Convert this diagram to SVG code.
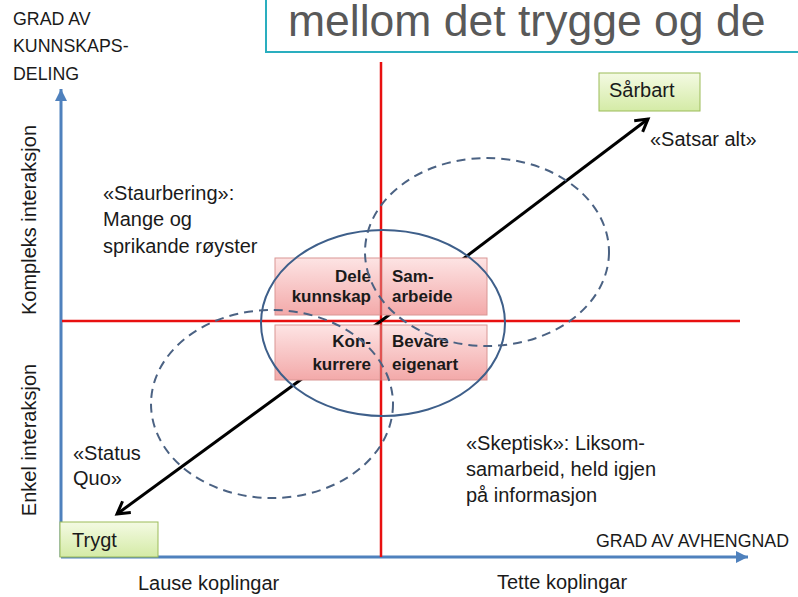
<svg xmlns="http://www.w3.org/2000/svg" width="798" height="597" viewBox="0 0 798 597">
<defs>
<linearGradient id="pink" x1="0" y1="0" x2="0" y2="1"><stop offset="0" stop-color="#fde4e4"/><stop offset="1" stop-color="#f3a9a9"/></linearGradient>
<linearGradient id="green" x1="0" y1="0" x2="0" y2="1"><stop offset="0" stop-color="#f4fae3"/><stop offset="1" stop-color="#d4eba6"/></linearGradient>
<marker id="blueHead" viewBox="0 0 12 12" markerWidth="12" markerHeight="12" refX="12" refY="6" orient="auto" markerUnits="userSpaceOnUse"><path d="M0,0 L12,6 L0,12 Z" fill="#4f81bd"/></marker>
<marker id="openHead" viewBox="0 0 18 18" markerWidth="18" markerHeight="18" refX="15" refY="9" orient="auto" markerUnits="userSpaceOnUse"><path d="M3,2 L15,9 L3,16" fill="none" stroke="#000" stroke-width="3"/></marker>
<style>
.t{font-family:"Liberation Sans",Arial,sans-serif;font-size:20px;fill:#1a1a1a}
.cap{font-size:17.8px}
.b{font-family:"Liberation Sans",Arial,sans-serif;font-size:17px;font-weight:bold;fill:#1a1a1a}
.axis{stroke:#4f81bd;stroke-width:3;fill:none;marker-end:url(#blueHead)}
.red{stroke:#e81010;stroke-width:2.5}
.dash{fill:none;stroke:#4b6283;stroke-width:2;stroke-dasharray:9 6}
.solid{fill:none;stroke:#3e5f8a;stroke-width:2}
.pbox{fill:url(#pink);stroke:#d99694;stroke-width:1}
.gbox{fill:url(#green);stroke:#9bbb59;stroke-width:1}
.arr{stroke:#000;stroke-width:3;fill:none;marker-end:url(#openHead)}
</style>
</defs>
<rect width="798" height="597" fill="#fff"/>

<g id="title">
<rect x="266" y="-10" width="560" height="62" fill="#fff" stroke="#2aaebf" stroke-width="2"/>
<text x="288" y="36" style="font-family:'Liberation Sans',Arial,sans-serif;font-size:44.5px;fill:#595959">mellom det trygge og de</text>
</g>

<g id="axes">
<line class="axis" x1="61" y1="557" x2="61" y2="89"/>
<line class="axis" x1="61" y1="557" x2="748" y2="557"/>
</g>

<g id="quadrant-lines">
<line class="red" x1="381" y1="62" x2="381" y2="557"/>
<line class="red" x1="62" y1="321" x2="740" y2="321"/>
</g>

<g id="connectors">
<line class="arr" x1="381" y1="321" x2="648" y2="119"/>
<line class="arr" x1="381" y1="321" x2="117" y2="514"/>
</g>

<g id="node-dele"><rect class="pbox" x="275" y="258" width="105" height="57"/><text class="b" text-anchor="end"><tspan x="371" y="282">Dele</tspan><tspan x="371" y="302">kunnskap</tspan></text></g>
<g id="node-samarbeide"><rect class="pbox" x="382" y="258" width="105" height="57"/><text class="b"><tspan x="392" y="282">Sam-</tspan><tspan x="392" y="302">arbeide</tspan></text></g>
<g id="node-konkurrere"><rect class="pbox" x="275" y="325" width="105" height="55"/><text class="b" text-anchor="end"><tspan x="371" y="347">Kon-</tspan><tspan x="371" y="370">kurrere</tspan></text></g>
<g id="node-bevare"><rect class="pbox" x="382" y="325" width="105" height="55"/><text class="b"><tspan x="392" y="347">Bevare</tspan><tspan x="392" y="370">eigenart</tspan></text></g>

<g id="ellipses">
<ellipse class="solid" cx="383" cy="323" rx="122" ry="93"/>
<ellipse class="dash" cx="487" cy="252" rx="122" ry="94"/>
<ellipse class="dash" cx="272" cy="404" rx="121" ry="94"/>
</g>

<g id="node-sarbart"><rect class="gbox" x="599" y="73" width="101" height="38"/><text class="t" x="609" y="97">Sårbart</text></g>
<g id="node-trygt"><rect class="gbox" x="60" y="522" width="98" height="35"/><text class="t" x="72" y="547">Trygt</text></g>

<g id="labels">
<text class="t cap"><tspan x="13" y="25">GRAD AV</tspan><tspan x="13" y="52">KUNNSKAPS-</tspan><tspan x="13" y="80">DELING</tspan></text>
<text class="t cap" x="596" y="547">GRAD AV AVHENGNAD</text>
<text class="t" transform="translate(36,220) rotate(-90)" text-anchor="middle">Kompleks  interaksjon</text>
<text class="t" transform="translate(36,440) rotate(-90)" text-anchor="middle">Enkel interaksjon</text>
<text class="t"><tspan x="103" y="200">«Staurbering»:</tspan><tspan x="103" y="226">Mange og</tspan><tspan x="103" y="253">sprikande røyster</tspan></text>
<text class="t" x="650" y="146">«Satsar alt»</text>
<text class="t"><tspan x="73" y="460">«Status</tspan><tspan x="73" y="485">Quo»</tspan></text>
<text class="t"><tspan x="466" y="450">«Skeptisk»: Liksom-</tspan><tspan x="466" y="476">samarbeid, held igjen</tspan><tspan x="466" y="502">på informasjon</tspan></text>
<text class="t" x="138" y="590">Lause koplingar</text>
<text class="t" x="497" y="589">Tette koplingar</text>
</g>
</svg>
